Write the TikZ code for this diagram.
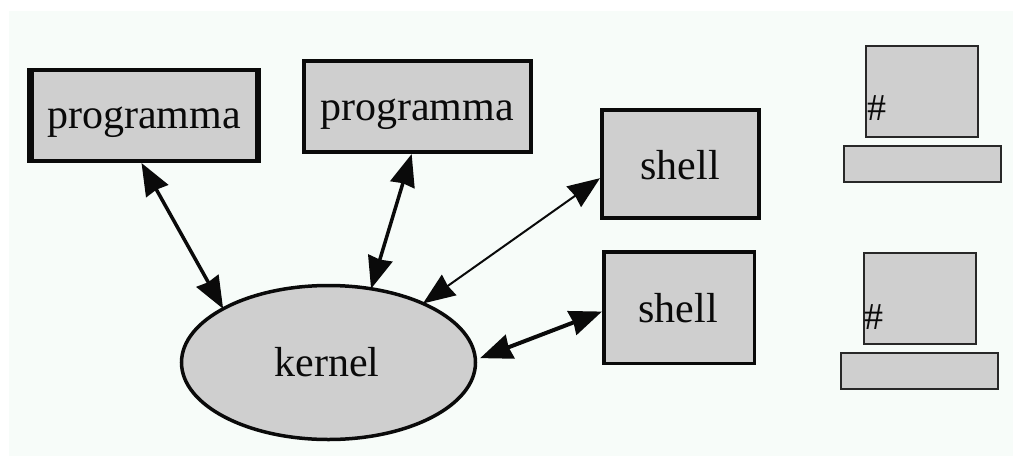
\documentclass[tikz,border=0pt]{standalone}
\usepackage{fontspec}
\setmainfont{Liberation Serif}
\usetikzlibrary{arrows.meta,shapes.geometric}
\definecolor{bgc}{HTML}{F7FCF9}
\definecolor{boxc}{HTML}{CFCFCF}
\definecolor{inkc}{HTML}{0A0A0A}
\tikzset{
  outerbox/.style={rectangle,fill=inkc,inner sep=0pt,outer sep=0pt},
  innerbox/.style={rectangle,fill=boxc,inner sep=0pt,outer sep=0pt},
  termbox/.style={rectangle,fill=boxc,draw=inkc!85!boxc,line width=2pt,inner sep=0pt,outer sep=0pt},
  lab/.style={anchor=base,inner sep=0pt,outer sep=0pt,text=inkc,font=\fontsize{42}{42}\selectfont},
  hash/.style={anchor=base,inner sep=0pt,outer sep=0pt,text=inkc,font=\fontsize{38}{38}\selectfont},
  conn/.style={{Stealth[length=32pt,width=25pt,inset=1.5pt]}-{Stealth[length=32pt,width=25pt,inset=1.5pt]},draw=inkc,fill=inkc}
}
\begin{document}
\begin{tikzpicture}[x=1pt,y=-1pt]
\useasboundingbox (0,0) rectangle (1013,456);
\fill[bgc] (9,11) rectangle (1013,456);
% programma 1
\node[outerbox,minimum width=234pt,minimum height=95pt] (p1) at (144,115.5) {};
\node[innerbox,minimum width=221pt,minimum height=87pt] (p1i) at (144.5,115.5) {};
\node[lab] (p1t) at (144,128) {programma};
% programma 2
\node[outerbox,minimum width=231pt,minimum height=95pt] (p2) at (417.5,106.5) {};
\node[innerbox,minimum width=223pt,minimum height=87pt] (p2i) at (417.5,106.5) {};
\node[lab] (p2t) at (417,120) {programma};
% shell 1
\node[outerbox,minimum width=161pt,minimum height=112pt] (s1) at (680.5,164) {};
\node[innerbox,minimum width=153pt,minimum height=104pt] (s1i) at (680.5,164) {};
\node[lab] (s1t) at (680,179) {shell};
% shell 2
\node[outerbox,minimum width=154pt,minimum height=115pt] (s2) at (679,307.5) {};
\node[innerbox,minimum width=147pt,minimum height=108pt] (s2i) at (679,307.5) {};
\node[lab] (s2t) at (678,322) {shell};
% kernel
\node[ellipse,fill=boxc,draw=inkc,line width=3.5pt,minimum width=294pt,minimum height=154pt,inner sep=0pt,outer sep=0pt] (k) at (328.5,362.5) {};
\node[lab] (kt) at (327,376) {kernel};
% terminals
\node[termbox,minimum width=112pt,minimum height=91pt] (t1s) at (922,91.5) {};
\node[termbox,minimum width=157pt,minimum height=36pt] (t1k) at (922.5,164) {};
\node[hash] (t1h) at (877,120) {\#};
\node[termbox,minimum width=112pt,minimum height=91pt] (t2s) at (919.5,298.5) {};
\node[termbox,minimum width=157pt,minimum height=36pt] (t2k) at (919.5,370.5) {};
\node[hash] (t2h) at (874,329) {\#};
% connectors
\draw[conn,line width=3.5pt] (p1.-93.6) -- (k.153.1);
\draw[conn,line width=3.5pt] (p2.-97.7) -- (k.60.8);
\draw[conn,line width=2pt] (s1.-170.8) -- (k.32);
\draw[conn,line width=4pt,shorten >=5pt] (s2.-177.4) -- (k.1);
\end{tikzpicture}
\end{document}
